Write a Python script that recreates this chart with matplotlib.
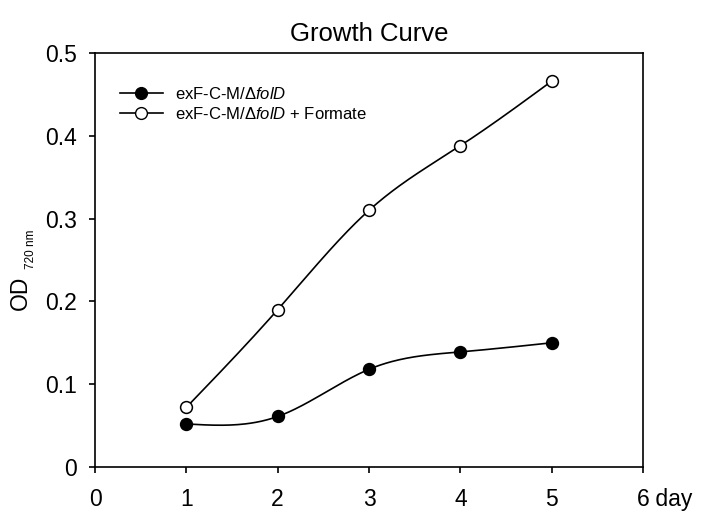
import matplotlib
matplotlib.use("Agg")
import matplotlib.pyplot as plt
import numpy as np

plt.rcParams['font.family'] = ['Liberation Sans', 'DejaVu Sans']
plt.rcParams['mathtext.fontset'] = 'custom'
plt.rcParams['mathtext.rm'] = 'Liberation Sans'
plt.rcParams['mathtext.it'] = 'Liberation Sans:italic'

days = [1, 2, 3, 4, 5]
od_plain = [0.052, 0.061, 0.118, 0.139, 0.150]
od_formate = [0.072, 0.190, 0.310, 0.388, 0.466]
xtick_labels = ['0', '1', '2', '3', '4', '5', '6']
yticks = [0, 0.1, 0.2, 0.3, 0.4, 0.5]
ytick_labels = ['0', '0.1', '0.2', '0.3', '0.4', '0.5']


def spline(x, y, n=200):
    # natural cubic spline through the measured points, for the smooth line
    x = np.asarray(x, float)
    y = np.asarray(y, float)
    k = len(x)
    h = np.diff(x)
    A = np.zeros((k, k))
    b = np.zeros(k)
    A[0, 0] = A[-1, -1] = 1
    for i in range(1, k - 1):
        A[i, i - 1] = h[i - 1]
        A[i, i] = 2 * (h[i - 1] + h[i])
        A[i, i + 1] = h[i]
        b[i] = 6 * ((y[i + 1] - y[i]) / h[i] - (y[i] - y[i - 1]) / h[i - 1])
    m = np.linalg.solve(A, b)
    xs = np.linspace(x[0], x[-1], n)
    idx = np.clip(np.searchsorted(x, xs) - 1, 0, k - 2)
    t = xs - x[idx]
    hi = h[idx]
    a = (m[idx + 1] - m[idx]) / (6 * hi)
    c = (y[idx + 1] - y[idx]) / hi - hi * (2 * m[idx] + m[idx + 1]) / 6
    ys = y[idx] + c * t + m[idx] / 2 * t ** 2 + a * t ** 3
    return xs, ys


fig = plt.figure(figsize=(7.01, 5.11), dpi=100)
ax = fig.add_axes([95 / 701, 44 / 511, 548 / 701, 414 / 511])

for vals, face in [(od_plain, 'black'), (od_formate, 'white')]:
    xs, ys = spline(days, vals)
    ax.plot(xs, ys, color='black', lw=1.2, zorder=2)
    ax.plot(days, vals, 'o', ms=8.5, mfc=face, mec='black', mew=1.1, zorder=3)

# legend handles
ax.plot([], [], '-o', color='black', lw=1.2, ms=8.5, mfc='black', mec='black',
        label=r'exF-C-M/$\Delta\mathit{folD}$')
ax.plot([], [], '-o', color='black', lw=1.2, ms=8.5, mfc='white', mec='black',
        label=r'exF-C-M/$\Delta\mathit{folD}$ + Formate')
h, l = ax.get_legend_handles_labels()
ax.legend(h, l, loc='upper left', frameon=False, fontsize=12,
          bbox_to_anchor=(0.045, 0.92), handlelength=2.6, handletextpad=0.7,
          labelspacing=0.25, borderaxespad=0, borderpad=0)

ax.set_xlim(0, 6)
ax.set_ylim(0, 0.5)
ax.set_xticks(range(7))
ax.set_xticklabels(xtick_labels)
ax.set_yticks(yticks)
ax.set_yticklabels(ytick_labels)
ax.tick_params(direction='out', length=4, width=1.2, labelsize=16.5)
ax.tick_params(axis='x', pad=11)
ax.tick_params(axis='y', pad=9)
for s in ax.spines.values():
    s.set_linewidth(1.2)

ax.set_title('Growth Curve', fontsize=18.5, pad=9)
fig.text(20 / 701, 1 - 293 / 511, 'OD', rotation=90, fontsize=16.5,
         ha='center', va='center')
fig.text(31 / 701, 1 - 249 / 511, '720 nm', rotation=90, fontsize=8.5,
         ha='center', va='center')

# unit after the last x tick label
fig.canvas.draw()
lab = ax.get_xticklabels()[-1].get_window_extent()
x0, y0 = ax.transData.inverted().transform((lab.x1, lab.y1))
ax.text(x0, y0, ' day', fontsize=16.5, ha='left', va='top', clip_on=False)

fig.savefig('out.png', dpi=100)
